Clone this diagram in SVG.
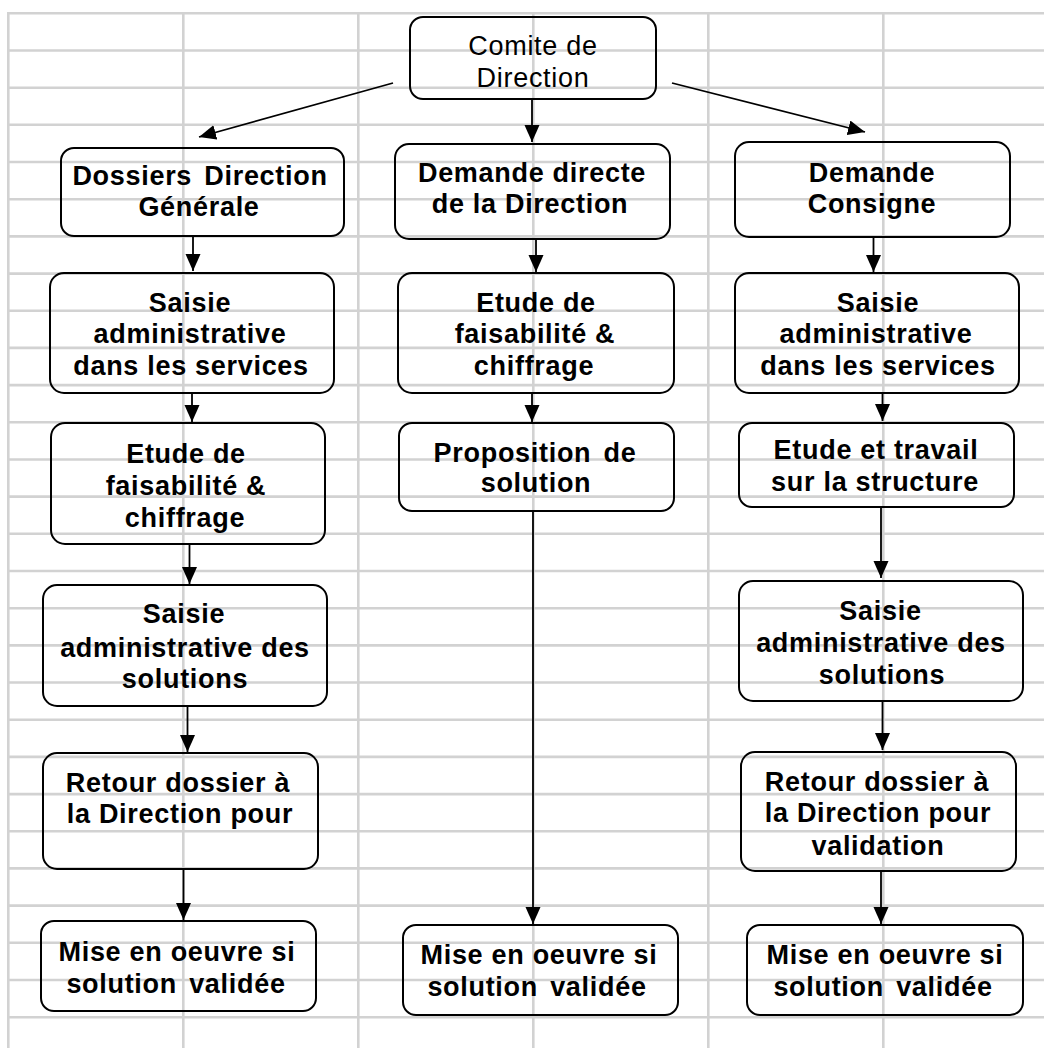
<svg xmlns="http://www.w3.org/2000/svg" width="1044" height="1048" viewBox="0 0 1044 1048">
<style>
.grid line{stroke:#d2d2d2;stroke-width:2.6}
.box{fill:none;stroke:#000;stroke-width:2}
.t{font-family:"Liberation Sans",Arial,sans-serif;font-size:27px;font-weight:bold;text-anchor:middle;letter-spacing:0.7px;fill:#000}
.n{font-weight:normal}
.w{word-spacing:4px}
.c{fill:none;stroke:#000;stroke-width:1.8;marker-end:url(#ah)}
</style>
<defs>
<marker id="ah" markerUnits="userSpaceOnUse" markerWidth="18" markerHeight="16" refX="17" refY="7.5" orient="auto">
<path d="M0,0 L17,7.5 L0,15 z" fill="#000"/>
</marker>
</defs>
<rect width="1044" height="1048" fill="#fff"/>
<g class="grid" id="grid">
<line x1="8" y1="13.3" x2="1044" y2="13.3"/>
<line x1="8" y1="50.5" x2="1044" y2="50.5"/>
<line x1="8" y1="87.7" x2="1044" y2="87.7"/>
<line x1="8" y1="124.8" x2="1044" y2="124.8"/>
<line x1="8" y1="162" x2="1044" y2="162"/>
<line x1="8" y1="199.2" x2="1044" y2="199.2"/>
<line x1="8" y1="236.4" x2="1044" y2="236.4"/>
<line x1="8" y1="273.6" x2="1044" y2="273.6"/>
<line x1="8" y1="310.7" x2="1044" y2="310.7"/>
<line x1="8" y1="347.9" x2="1044" y2="347.9"/>
<line x1="8" y1="385.1" x2="1044" y2="385.1"/>
<line x1="8" y1="422.3" x2="1044" y2="422.3"/>
<line x1="8" y1="459.5" x2="1044" y2="459.5"/>
<line x1="8" y1="496.6" x2="1044" y2="496.6"/>
<line x1="8" y1="533.8" x2="1044" y2="533.8"/>
<line x1="8" y1="571" x2="1044" y2="571"/>
<line x1="8" y1="608.2" x2="1044" y2="608.2"/>
<line x1="8" y1="645.4" x2="1044" y2="645.4"/>
<line x1="8" y1="682.5" x2="1044" y2="682.5"/>
<line x1="8" y1="719.7" x2="1044" y2="719.7"/>
<line x1="8" y1="756.9" x2="1044" y2="756.9"/>
<line x1="8" y1="794.1" x2="1044" y2="794.1"/>
<line x1="8" y1="831.3" x2="1044" y2="831.3"/>
<line x1="8" y1="868.4" x2="1044" y2="868.4"/>
<line x1="8" y1="905.6" x2="1044" y2="905.6"/>
<line x1="8" y1="942.8" x2="1044" y2="942.8"/>
<line x1="8" y1="980" x2="1044" y2="980"/>
<line x1="8" y1="1017.2" x2="1044" y2="1017.2"/>
<line x1="8.3" y1="12" x2="8.3" y2="1048"/>
<line x1="183.3" y1="12" x2="183.3" y2="1048"/>
<line x1="358.3" y1="12" x2="358.3" y2="1048"/>
<line x1="533.3" y1="12" x2="533.3" y2="1048"/>
<line x1="708.3" y1="12" x2="708.3" y2="1048"/>
<line x1="883.3" y1="12" x2="883.3" y2="1048"/>
</g>
<g id="connectors">
<path class="c" d="M393,83 L199,137"/>
<path class="c" d="M532,99 L532,142"/>
<path class="c" d="M672,83 L865,132"/>
<path class="c" d="M193,236 L193,271"/>
<path class="c" d="M192,393 L192,422"/>
<path class="c" d="M189.5,544 L189.5,584"/>
<path class="c" d="M187.5,706 L187.5,752"/>
<path class="c" d="M183.5,869 L183.5,920"/>
<path class="c" d="M536,239 L536,272"/>
<path class="c" d="M532,393 L532,422"/>
<path class="c" d="M533,511 L533,924"/>
<path class="c" d="M873.5,237 L873.5,272"/>
<path class="c" d="M882.5,393 L882.5,421"/>
<path class="c" d="M881,507 L881,578"/>
<path class="c" d="M882.5,701 L882.5,750"/>
<path class="c" d="M881,871 L881,924"/>
</g>
<g id="n-comite">
<rect class="box" x="410" y="17" width="246" height="82" rx="13"/>
<text class="t n" x="533" y="55">Comite de</text>
<text class="t n" x="533" y="87">Direction</text>
</g>
<g id="n-dossiers">
<rect class="box" x="61" y="148" width="283" height="88" rx="13"/>
<text class="t w" x="200" y="185">Dossiers Direction</text>
<text class="t" x="199" y="216">Générale</text>
</g>
<g id="n-saisie1">
<rect class="box" x="50" y="273" width="284" height="120" rx="14"/>
<text class="t" x="190" y="311.7">Saisie</text>
<text class="t" x="190" y="343">administrative</text>
<text class="t" x="191" y="375">dans les services</text>
</g>
<g id="n-etude1">
<rect class="box" x="51" y="423" width="274" height="121" rx="14"/>
<text class="t" x="186" y="463.3">Etude de</text>
<text class="t" x="186" y="495">faisabilité &amp;</text>
<text class="t" x="185" y="526.7">chiffrage</text>
</g>
<g id="n-saisiesol1">
<rect class="box" x="43" y="585" width="284" height="121" rx="14"/>
<text class="t" x="184" y="623.3">Saisie</text>
<text class="t" x="185" y="656.7">administrative des</text>
<text class="t" x="185" y="688.3">solutions</text>
</g>
<g id="n-retour1">
<rect class="box" x="43" y="753" width="275" height="116" rx="14"/>
<text class="t" x="178" y="791.7">Retour dossier à</text>
<text class="t" x="180" y="823.3">la Direction pour</text>
</g>
<g id="n-mise1">
<rect class="box" x="41" y="921" width="275" height="90" rx="13"/>
<text class="t" x="177" y="960.7">Mise en oeuvre si</text>
<text class="t w" x="176" y="993.3">solution validée</text>
</g>
<g id="n-demande-directe">
<rect class="box" x="395" y="144" width="275" height="95" rx="14"/>
<text class="t" x="532" y="181.7">Demande directe</text>
<text class="t" x="530" y="212.7">de la Direction</text>
</g>
<g id="n-etude2">
<rect class="box" x="398" y="273" width="276" height="120" rx="14"/>
<text class="t" x="536" y="311.7">Etude de</text>
<text class="t" x="535" y="343.3">faisabilité &amp;</text>
<text class="t" x="534" y="375">chiffrage</text>
</g>
<g id="n-proposition">
<rect class="box" x="399" y="423" width="275" height="88" rx="13"/>
<text class="t w" x="535" y="461.7">Proposition de</text>
<text class="t" x="536" y="491.7">solution</text>
</g>
<g id="n-mise2">
<rect class="box" x="403" y="925" width="275" height="90" rx="13"/>
<text class="t" x="539" y="964">Mise en oeuvre si</text>
<text class="t w" x="537" y="996">solution validée</text>
</g>
<g id="n-consigne">
<rect class="box" x="735" y="142" width="275" height="95" rx="14"/>
<text class="t" x="872" y="181.7">Demande</text>
<text class="t" x="872" y="212.7">Consigne</text>
</g>
<g id="n-saisie3">
<rect class="box" x="735" y="273" width="284" height="120" rx="14"/>
<text class="t" x="878" y="311.7">Saisie</text>
<text class="t" x="876" y="343.3">administrative</text>
<text class="t" x="878" y="375">dans les services</text>
</g>
<g id="n-etude3">
<rect class="box" x="739" y="423" width="275" height="84" rx="13"/>
<text class="t" x="876" y="459">Etude et travail</text>
<text class="t" x="875" y="491">sur la structure</text>
</g>
<g id="n-saisiesol3">
<rect class="box" x="739" y="581" width="284" height="120" rx="14"/>
<text class="t" x="880.5" y="620">Saisie</text>
<text class="t" x="881" y="652.3">administrative des</text>
<text class="t" x="882" y="684.3">solutions</text>
</g>
<g id="n-retour3">
<rect class="box" x="741" y="752" width="275" height="119" rx="14"/>
<text class="t" x="877" y="790.7">Retour dossier à</text>
<text class="t" x="878" y="821.7">la Direction pour</text>
<text class="t" x="878" y="855">validation</text>
</g>
<g id="n-mise3">
<rect class="box" x="747" y="925" width="276" height="90" rx="13"/>
<text class="t" x="885" y="964">Mise en oeuvre si</text>
<text class="t w" x="883" y="996">solution validée</text>
</g>
</svg>
